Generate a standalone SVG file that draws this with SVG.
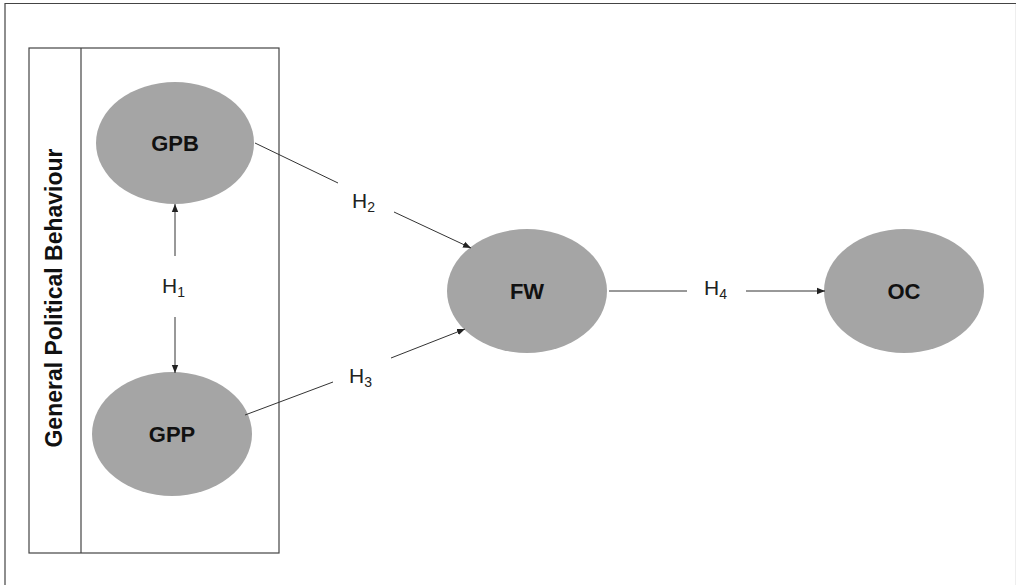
<svg xmlns="http://www.w3.org/2000/svg" width="1017" height="585" viewBox="0 0 1017 585">
<style>
.frame{fill:none;stroke:#444;stroke-width:1.2}
.node{fill:#a5a5a5;stroke:none}
.nl{font-family:"Liberation Sans",Arial,sans-serif;font-weight:bold;font-size:22px;fill:#111;text-anchor:middle}
.hl{font-family:"Liberation Sans",Arial,sans-serif;font-size:21px;fill:#222}
.sub{font-size:14px}
.edge{stroke:#333;stroke-width:1;fill:none}
</style>
<defs>
<marker id="arr" viewBox="0 0 10 10" refX="10" refY="5" markerWidth="8" markerHeight="8" markerUnits="userSpaceOnUse" orient="auto">
<path d="M0,1 L10,5 L0,9 z" fill="#222"/>
</marker>
</defs>
<rect width="1017" height="585" fill="#fff"/>
<g id="outer-frame">
<path class="frame" d="M5,585 L5,3.5 L1016,3.5" stroke="#333"/>
<path d="M1015.5,4 L1015.5,585" stroke="#eee" stroke-width="1"/>
</g>
<g id="group-box">
<rect class="frame" x="29" y="48" width="250" height="505"/>
<line class="frame" x1="81" y1="48" x2="81" y2="553"/>
<text class="nl" style="font-size:23px" transform="translate(62,298) rotate(-90)" x="0" y="0">General Political Behaviour</text>
</g>
<g id="node-GPB">
<ellipse class="node" cx="175" cy="143" rx="79" ry="61"/>
<text class="nl" x="175" y="151">GPB</text>
</g>
<g id="node-GPP">
<ellipse class="node" cx="172" cy="434" rx="80" ry="62"/>
<text class="nl" x="172" y="442">GPP</text>
</g>
<g id="node-FW">
<ellipse class="node" cx="527" cy="291" rx="80" ry="62"/>
<text class="nl" x="527" y="299">FW</text>
</g>
<g id="node-OC">
<ellipse class="node" cx="904" cy="291" rx="80" ry="62"/>
<text class="nl" x="904" y="299">OC</text>
</g>
<g id="connectors">
<line class="edge" x1="175" y1="256" x2="175" y2="204" marker-end="url(#arr)"/>
<line class="edge" x1="175" y1="317" x2="175" y2="373" marker-end="url(#arr)"/>
<line class="edge" x1="255" y1="143" x2="338" y2="183"/>
<line class="edge" x1="394" y1="212" x2="471" y2="248" marker-end="url(#arr)"/>
<line class="edge" x1="245" y1="415" x2="333" y2="382"/>
<line class="edge" x1="391" y1="358" x2="465" y2="329" marker-end="url(#arr)"/>
<line class="edge" x1="609" y1="291" x2="687" y2="291"/>
<line class="edge" x1="746" y1="291" x2="825" y2="291" marker-end="url(#arr)"/>
<text class="hl" x="162" y="293">H<tspan class="sub" dy="4">1</tspan></text>
<text class="hl" x="352" y="208">H<tspan class="sub" dy="4">2</tspan></text>
<text class="hl" x="349" y="383">H<tspan class="sub" dy="4">3</tspan></text>
<text class="hl" x="704" y="295">H<tspan class="sub" dy="4">4</tspan></text>
</g>
</svg>
